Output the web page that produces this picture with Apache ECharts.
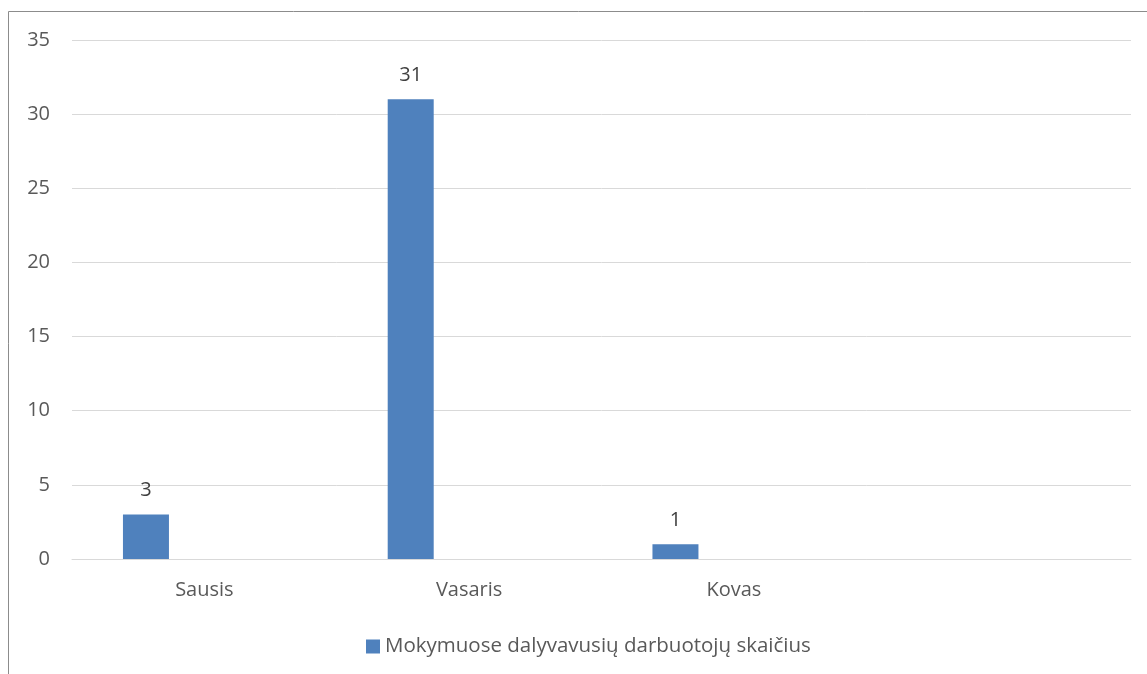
<!DOCTYPE html>
<html>
<head>
<meta charset="utf-8">
<script src="https://cdn.jsdelivr.net/npm/echarts@6/dist/echarts.min.js"></script>
<style>
html,body{margin:0;padding:0;background:#fff;}
#chart{width:1147px;height:674px;}
</style>
</head>
<body>
<div id="chart"></div>
<script>
const categories = ['Sausis', 'Vasaris', 'Kovas', ''];
const seriesName = 'Mokymuose dalyvavusių darbuotojų skaičius';
const values = [3, 31, 1, null];
const emptyValues = [null, null, null, null];
const yTicks = { min: 0, max: 35, interval: 5 };

const FONT = 'Open Sans, Liberation Sans, sans-serif';
const chart = echarts.init(document.getElementById('chart'), null, { renderer: 'canvas' });
chart.setOption({
  backgroundColor: '#ffffff',
  animation: false,
  graphic: [{
    type: 'rect',
    shape: { x: 8.5, y: 11.5, width: 1200, height: 700 },
    style: { fill: 'none', stroke: '#8c8c8c', lineWidth: 1 },
    silent: true
  }],
  grid: { left: 72, right: 16, top: 40, bottom: 115, containLabel: false },
  legend: {
    data: [seriesName],
    bottom: 12,
    left: 361,
    itemWidth: 14,
    itemHeight: 14,
    itemGap: 6,
    icon: 'rect',
    textStyle: { color: '#595959', fontSize: 20.5, fontFamily: FONT }
  },
  xAxis: {
    type: 'category',
    data: categories,
    axisLine: { show: true, lineStyle: { color: '#d9d9d9', width: 1 } },
    axisTick: { show: false },
    axisLabel: { color: '#595959', fontSize: 20, fontFamily: FONT, margin: 21 }
  },
  yAxis: {
    type: 'value',
    min: yTicks.min,
    max: yTicks.max,
    interval: yTicks.interval,
    axisLine: { show: false },
    axisTick: { show: false },
    axisLabel: { color: '#595959', fontSize: 20, fontFamily: FONT, margin: 22 },
    splitLine: { lineStyle: { color: '#d9d9d9', width: 1 } }
  },
  series: [{
    name: seriesName,
    type: 'bar',
    data: values,
    barWidth: 46,
    barGap: '154%',
    itemStyle: { color: '#4f81bd' },
    label: { show: true, position: 'top', distance: 14, color: '#404040', fontSize: 20, fontFamily: FONT }
  }, {
    name: 'empty',
    type: 'bar',
    data: emptyValues,
    barWidth: 46,
    itemStyle: { color: '#c0504d' }
  }]
});
</script>
</body>
</html>
